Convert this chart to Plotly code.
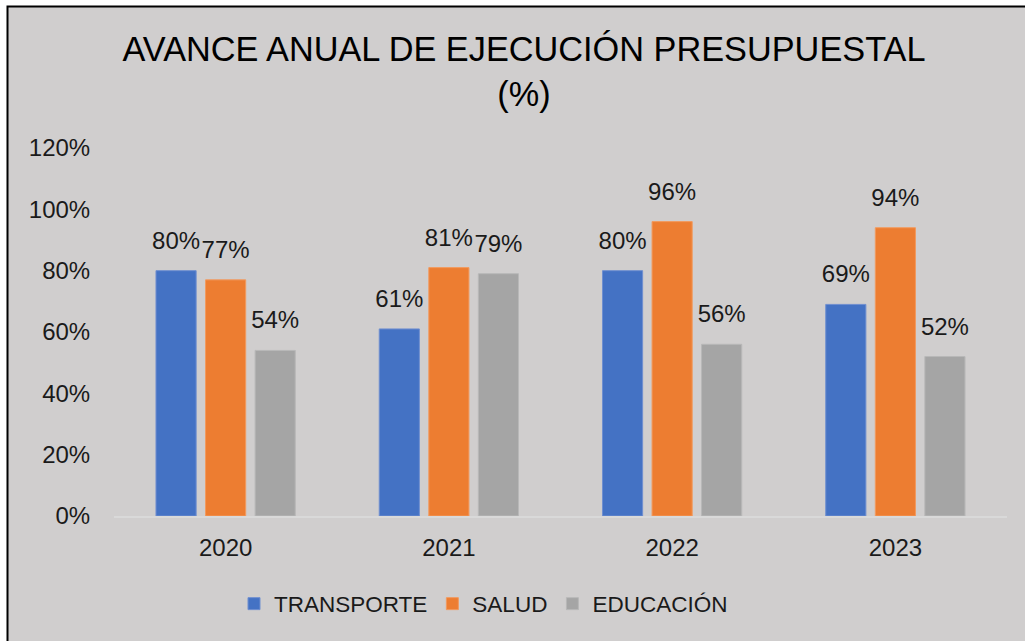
import plotly.graph_objects as go

years = ["2020", "2021", "2022", "2023"]
series = ["TRANSPORTE", "SALUD", "EDUCACIÓN"]
transporte = [0.80, 0.61, 0.80, 0.69]
salud = [0.77, 0.81, 0.96, 0.94]
educacion = [0.54, 0.79, 0.56, 0.52]
colors = ["#4472c4", "#ed7d31", "#a5a5a5"]
edge_colors = ["#6f8fd0", "#f29a5e", "#b8b8b8"]
tick_vals = [0, 0.2, 0.4, 0.6, 0.8, 1.0, 1.2]

values = [transporte, salud, educacion]

W, H = 1025, 641
L, R, T, B = 114, 18, 148, 125
pw, ph = W - L - R, H - T - B
FONT = "Liberation Sans, Arial, sans-serif"
TXT = "#1a1a1a"
GAP = 0.334

fig = go.Figure()
for name, vals, c, ec in zip(series, values, colors, edge_colors):
    fig.add_trace(go.Bar(
        x=years, y=vals, name=name,
        marker=dict(color=c, line=dict(color=ec, width=1)),
        hoverinfo="skip",
    ))
for name, vals in zip(series, values):
    fig.add_trace(go.Scatter(
        x=years, y=vals, mode="markers+text", orientation="v",
        text=[f"{round(v*100)}%" for v in vals],
        textposition="top center",
        textfont=dict(family=FONT, size=24, color=TXT),
        marker=dict(size=24, opacity=0),
        showlegend=False, hoverinfo="skip", cliponaxis=False,
    ))

def px2x(p):
    return (p - L) / pw

def py2y(p):
    return (H - B - p) / ph

fig.update_layout(
    width=W, height=H,
    margin=dict(l=L, r=R, t=T, b=B),
    paper_bgcolor="white",
    plot_bgcolor="rgba(0,0,0,0)",
    barmode="group", bargap=GAP, bargroupgap=0.19,
    scattermode="group", scattergap=GAP,
    title=dict(
        text="AVANCE ANUAL DE EJECUCIÓN PRESUPUESTAL<br>(%)",
        x=524 / W, xanchor="center", xref="container",
        y=1 - 61 / H, yanchor="top", yref="container",
        font=dict(family=FONT, size=34.3, color="#000000"),
    ),
    font=dict(family=FONT, color=TXT),
    xaxis=dict(
        type="category", showgrid=False, showline=True,
        linecolor="#d9d9d9", linewidth=2,
        ticks="outside", ticklen=9, tickcolor="rgba(0,0,0,0)",
        tickfont=dict(family=FONT, size=24, color=TXT),
    ),
    yaxis=dict(
        range=[0, 1.2], tickvals=tick_vals, tickformat=".0%",
        showgrid=False, zeroline=False, showline=False,
        ticks="outside", ticklen=18, tickcolor="rgba(0,0,0,0)",
        tickfont=dict(family=FONT, size=24, color=TXT),
    ),
    legend=dict(
        orientation="h", x=px2x(234), xanchor="left",
        y=py2y(604), yanchor="middle",
        font=dict(family=FONT, size=22.5, color=TXT),
        bgcolor="rgba(0,0,0,0)",
    ),
    shapes=[dict(
        type="rect", xref="paper", yref="paper",
        x0=px2x(7.5), x1=1.2, y0=-0.6, y1=py2y(6.5),
        line=dict(color="black", width=2), fillcolor="#d0cece",
        layer="below",
    )],
)

fig.write_html(
    "out.html",
    config={"displayModeBar": False},
    post_script="document.body.style.margin='0';document.body.style.overflow='hidden';",
)
